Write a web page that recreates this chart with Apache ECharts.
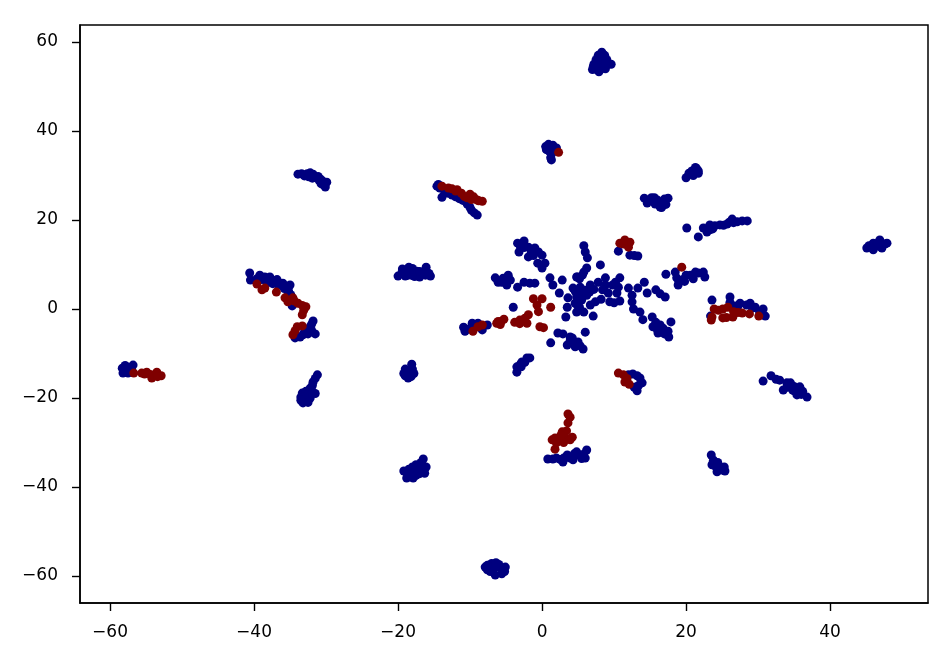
<!DOCTYPE html>
<html>
<head>
<meta charset="utf-8">
<script src="https://cdn.jsdelivr.net/npm/echarts@6/dist/echarts.min.js"></script>
<style>html,body{margin:0;padding:0;background:#fff}#c{width:952px;height:662px}</style>
</head>
<body>
<div id="c"></div>
<script>
const xTicks = [-60,-40,-20,0,20,40];
const yTicks = [-60,-40,-20,0,20,40,60];

const bluePoints = [
[7.1,54.4],[7.2,55],[7.5,56],[7.8,57],[8.3,57.7],[8.7,57],[9,56],[9.2,55],[9.6,55],[8.8,54],[8.2,54],[7.6,53.8],[7,53.8],[8,55],[8.5,55.5],[8,56],[7.5,55],[8.6,54.6],[7.9,53.3],[8.3,56.5],[8.8,55.2],
[0.5,36.5],[0.9,37],[1.5,36.8],[2,36.2],[0.6,35.8],[1,35.5],[1.3,34.8],[1.2,34],[1.3,33.5],[2,35.5],
[-14.6,27.6],[-14.4,28],[-14.2,27.2],[-13.9,25.1],[-13.5,26.2],[-13,26],[-12.5,25.6],[-12,25.2],[-11.5,24.8],[-11,24.4],[-10.8,24.6],[-10.4,23.6],[-10,22.8],[-9.8,22.2],[-9.4,21.6],[-9,21.1],
[-33.9,30.3],[-33.4,30.4],[-33,30.1],[-32.6,30.4],[-32.2,30.6],[-31.8,30.3],[-31.5,29.7],[-31.9,29.4],[-31.1,29.8],[-30.8,29.2],[-30.5,28.8],[-29.9,28.5],[-30.1,27.4],[-30.7,28.2],[-31,29],[-33,29.9],[-32.4,29.7],[-30.4,27.9],
[-20,7.4],[-19.4,9],[-19,7.4],[-18.5,9.4],[-18.4,8],[-18,9.1],[-17.7,7.3],[-17.4,8.5],[-17,7.2],[-16.6,8],[-16.2,7.6],[-16.1,9.4],[-15.5,7.4],[-18.6,7.6],[-18,7.5],[-19.5,8],[-17,8.4],[-16,8.2],[-15.7,8],[-19,8.4],
[-40.6,8.1],[-40.5,6.5],[-39.2,7.6],[-39.6,6.8],[-38.5,7.2],[-37.8,7.2],[-37.2,6.4],[-38,6],[-36.6,5.4],[-36,5.8],[-35.3,5],[-35,5.4],[-35.2,4],[-34.7,0.7],[-39,6.6],[-37.4,5.7],[-36.8,6.6],[-38.4,6.4],[-35.8,4.6],[-34.9,3.2],[-35.3,3],
[-31.8,-2.7],[-32.2,-4],[-31.5,-5.6],[-32.5,-5.6],[-33.6,-6.3],[-34.3,-6.5],[-32,-4.8],[-33,-5.2],[-33.2,-5.8],[-32.8,-4.6],[-32,-3.4],
[-57.9,-13.7],[-57.9,-12.7],[-56.8,-12.6],[-58.3,-13.3],[-58.2,-14.4],[-57.5,-14.4],[-57,-13.6],[-57.4,-13.2],
[-31.2,-14.8],[-31.8,-16.4],[-32.2,-17.8],[-33.3,-18.9],[-33.5,-19.8],[-33.2,-21.1],[-31.5,-19],[-32.2,-20],[-32.8,-20.4],[-32.8,-18.5],[-32.4,-18.9],[-33,-19.7],[-31.5,-15.6],[-31.9,-17.2],[-32.5,-21],[-33.5,-20.5],[-31.9,-18.6],
[-19.2,-14.5],[-19,-13.5],[-18.5,-14],[-18.1,-12.4],[-18,-13.5],[-18.2,-15.2],[-17.8,-14.5],[-19,-15],[-18.6,-15.5],
[-19.2,-36.4],[-18.8,-38],[-17.9,-38],[-18.5,-36],[-18,-37],[-18,-35.5],[-17.5,-36.5],[-17.5,-35],[-17,-36],[-16.8,-34.5],[-16.1,-35.5],[-16.5,-33.7],[-16.3,-36.9],[-18.8,-36.8],[-17,-37],[-18.5,-37.2],[-17.5,-37.4],
[-7.9,-58],[-7.6,-58.6],[-7,-57.2],[-6.8,-58.5],[-6.4,-57],[-6,-58],[-5.6,-59.5],[-5.1,-58],[-5.2,-59],[-6.5,-59.8],[-7.2,-59],[-6,-57.4],[-7.6,-57.6],[-6.5,-58],
[-10.9,-4.1],[-10.7,-5],[-9.7,-3.2],[-8.9,-3.2],[-7.6,-3.6],[-8.3,-4.7],[-10.2,-4.5],[-9.4,-4],
[-4,0.4],
[-6.5,7],[-6.1,6],[-5.4,6.9],[-4.7,7.6],[-4.9,5.4],[-4.4,6.5],[-3.4,4.9],[-2.5,6],[-1.7,5.8],[-1,5.8],[-5.6,6],
[-3.4,14.8],[-2.5,15.3],[-3.2,12.8],[-1.9,13.9],[-1.9,11.7],[-1,13.7],[0,12.1],[-1.2,12],[-0.6,10.3],[0.4,10.3],[0,9.2],[-2.5,13.8],[-0.5,12.8],[-1.5,12.8],[-3,14],
[1.1,7],[2.8,6.5],[1.5,5.4],[2.4,3.6],[4.9,7.2],[4.3,4.7],[3.6,2.5],[3.5,0.4],[4.6,4],[4.9,0.9],[3.3,-1.8],[2.2,-5.4],[2.9,-5.6],[1.2,-7.6],[3.9,-6.3],[3.5,-8.1],[4.6,-8.5],[5,-7.4],[4.2,-7.6],[3.9,-7.2],
[-2.8,-11.9],[-2.1,-11],[-3.5,-13],[-3.5,-14.2],[-2.9,-13],[-1.7,-11],[-3,-12.4],[-2.4,-12],
[5.8,14.2],[6,12.8],[6.3,11.5],[8.1,9.9],[6.2,9.2],[5.6,7.6],[4.8,7.2],[5.8,8.3],[5.2,6.8],
[5.3,4.9],[6.7,5.4],[7.8,6],[8.8,7],[8.8,5.4],[10.8,7],[10.6,4.9],[10.4,3.6],[8.4,4.3],[9.2,3.6],[5.3,3.6],[6.2,3.1],[7.4,1.6],[6.7,0.9],[4.8,2.7],[4.6,1.3],[4.8,-0.7],[5.8,-0.7],[7.1,-1.6],[9.4,1.6],[10.8,1.8],[10,1.4],[12,4.7],[13.3,4.7],[12.5,3.1],[12.5,1.6],[12.7,0],[13.6,-0.7],[14,-2.4],[14.2,6],[14.6,3.6],[15.8,4.3],[16.4,3.4],[17.1,2.7],[15.3,-1.8],[17.9,-2.9],[15.4,-4],[16.1,-5.4],[16.8,-4.3],[17.6,-6.3],[17.5,-5],[16.4,-3.6],
[5.5,2],[6.6,3.8],[7.2,4.4],[6,4.2],[8.2,2.2],[9.8,5.4],[10.2,6],[5.2,0.4],[16,-4.6],[15.8,-3],[17,-5.6],
[6,-5.2],[4.2,-6.5],[5.3,-8.3],[5.7,-9],
[10.6,13],[12.2,12.1],[13.3,11.9],[12.8,12],
[20.1,18.2],[21.7,16.2],
[17.2,7.8],[18.5,8.3],[18.9,5.4],[19.6,6.6],[20.6,7.6],[21.7,8.1],[18.7,7],[19.8,6.2],[21.3,8.3],[22.4,8.3],[22.6,7.2],[21,6.8],[20,7.6],[19,6.2],
[22.4,18.2],[22.9,17.3],[23.3,18.9],[24,18.7],[24.7,18.9],[25.7,19.1],[26.4,20.2],[27.1,19.6],[27.8,19.8],[28.5,19.8],[23.3,17.8],[26,19.5],[23.7,18],[25.2,18.8],[26.6,19.4],
[23.6,2],[26.1,2.7],[26.1,1.5],[27.5,1.3],[28.9,1.3],[29.6,0.4],[30.7,0],[31,-1.6],[23.4,-1.6],[26.8,0.7],[28.4,0.9],[27.2,0.6],[29.2,0.2],[30.2,-0.6],
[45.1,13.7],[45.4,14.2],[46,13.3],[46,14.8],[46.4,14.2],[46.9,15.5],[47,14],[47.2,13.7],[47.6,14.6],[47.9,14.8],[46.8,14.6],[46,13.6],[46.6,14.8],
[20,29.5],[20.4,30.5],[20.8,31],[21,30],[21.5,31.5],[21.7,30.5],[21.3,31.8],[21.7,31],
[14.2,24.9],[15.2,25],[14.6,23.8],[15.7,23.6],[16,24.5],[16.4,22.9],[16.6,22.8],[17,24.7],[17.2,23.5],[17.5,24.9],[15.6,25],[16.8,23.6],[15.5,24.4],
[30.7,-16.2],[31.8,-15],[32.5,-15.8],[33,-16],[33.5,-18.2],[34,-16.6],[34.2,-17.4],[34.5,-16.6],[35,-17.4],[35.4,-19.3],[35.8,-17.5],[36.2,-18.5],[36.8,-19.8],[35,-18.4],[34,-17.6],[34.8,-18.2],[36,-19.2],
[23.5,-32.8],[23.6,-35],[23.8,-34],[24.3,-36.6],[24.4,-34.5],[24.7,-35.5],[25,-36.2],[25.3,-35.5],[25.4,-36.4],[24.2,-35.6],
[12.6,-14.6],[13.6,-15.5],[13.9,-16.6],[13.2,-18.4],[13.2,-15],[12,-14.8],[12.8,-17.6],[13.4,-17.2],
[0.8,-33.7],[1.5,-33.7],[2,-33.5],[2.9,-34.4],[3.5,-32.8],[3.9,-33.5],[4.3,-33.9],[4.8,-32.1],[6,-33.5],[6.2,-31.7],[5.2,-32.8],[2.5,-33.8],[3,-33.5],[4.5,-32.5],[5.5,-33.6],[5.8,-32.6]
];

const redPoints = [
[2.3,35.2],
[-13.9,27.6],[-13,27.2],[-12.5,27],[-12,26.5],[-11.8,26.8],[-11.2,26],[-10.8,25.3],[-10.4,25],[-10,25.8],[-9.8,24.6],[-9.5,25.2],[-9,24.5],[-8.8,24.3],[-8.3,24.2],
[-39.6,5.6],[-38.9,4.3],[-38.5,4.7],[-36.9,3.8],[-35.7,2.5],[-34.6,2.5],[-35.3,1.6],[-33.9,1.3],[-32.8,0.5],[-33.3,-1.3],[-33.1,-0.3],[-34.4,1.8],[-33.3,0.8],
[-33.3,-3.8],[-34,-4],[-34.6,-5.8],[-34.3,-4.9],
[-56.7,-14.4],[-55.6,-14.4],[-54.9,-14.2],[-54.2,-15.5],[-54.4,-14.7],[-53.5,-14.2],[-52.9,-15],[-53.4,-15.2],[-55.2,-14.6],
[-9.6,-5],[-8.9,-4],[-8.3,-3.6],
[-6.3,-3.2],[-5.8,-3.5],[-5.3,-2.3],[-3.8,-3],[-3.1,-2.5],[-3.1,-3.3],[-2.1,-3.2],[-1.9,-1.3],[-2.4,-2.1],[-5.7,-2.8],[-6.1,-2.8],
[-1.2,2.3],[0,2.3],[-0.7,0.9],[-0.5,-0.6],[1.2,0.4],[-0.3,-4],[0.2,-4.2],
[10.8,14.8],[11.5,15.5],[12.2,15],[12,13.9],[11.3,14.6],
[19.4,9.4],
[23.9,0],[23.5,-2.5],[23.6,-1.8],[25.1,0],[25.8,0.4],[25.1,-2],[26.5,-1.8],[26.6,-0.6],[27.8,-0.9],[28.8,-1.1],[30.1,-1.6],[25.6,-1.9],[27.2,-0.8],[24.5,-0.3],
[10.6,-14.4],[11.3,-14.8],[11.5,-16.4],[12.1,-16.9],[11.8,-15.6],
[3.6,-23.6],[3.9,-24.3],[3.6,-25.6],[1.4,-29.4],[1.8,-31.5],[2.8,-27.6],[3.4,-27.4],[4.2,-28.8],[2.5,-29.4],[2,-30.1],[3.2,-28.8],[3.9,-29.4],[3,-30],[1.8,-29],[2.6,-28.4]
];

const fmt = v => String(v).replace('-', '\u2212');
const xLabelStyle = {color:'#000', fontFamily:'DejaVu Sans', fontSize:17, margin:21, formatter:fmt};
const yLabelStyle = {color:'#000', fontFamily:'DejaVu Sans', fontSize:17, margin:22, formatter:fmt};
const tickStyle = {show:true, inside:false, length:8, lineStyle:{color:'#000', width:1.4}};

const chart = echarts.init(document.getElementById('c'), null, {renderer:'canvas'});
chart.setOption({
  animation:false,
  backgroundColor:'#fff',
  grid:{left:80, right:24, top:25, bottom:59, show:true, borderColor:'#000', borderWidth:1.5, backgroundColor:'#fff'},
  xAxis:{type:'value', min:-64.17, max:53.6, splitLine:{show:false},
    axisLine:{show:true, onZero:false, lineStyle:{color:'#000', width:1.5}},
    axisTick:Object.assign({customValues:xTicks}, tickStyle),
    axisLabel:Object.assign({customValues:xTicks, hideOverlap:false}, xLabelStyle)},
  yAxis:{type:'value', min:-66.07, max:63.82, splitLine:{show:false},
    axisLine:{show:true, onZero:false, lineStyle:{color:'#000', width:1.5}},
    axisTick:Object.assign({customValues:yTicks}, tickStyle),
    axisLabel:Object.assign({customValues:yTicks, hideOverlap:false}, yLabelStyle)},
  series:[
    {type:'scatter', data:bluePoints, symbol:'circle', symbolSize:9, itemStyle:{color:'#00007f', opacity:1}, silent:true},
    {type:'scatter', data:redPoints, symbol:'circle', symbolSize:9, itemStyle:{color:'#7f0000', opacity:1}, silent:true}
  ]
});
</script>
</body>
</html>
